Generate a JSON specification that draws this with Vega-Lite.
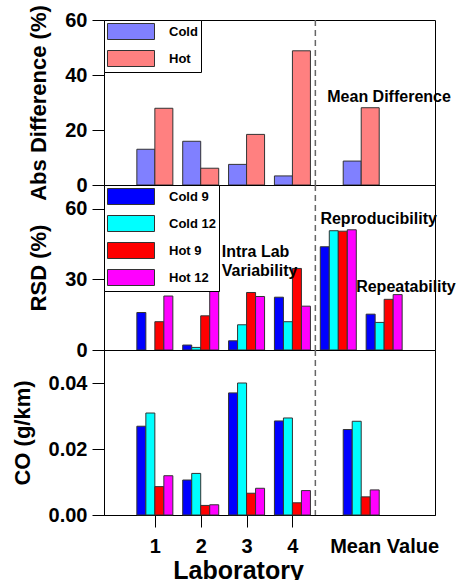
{
  "$schema": "https://vega.github.io/schema/vega-lite/v6.json",
  "padding": {"left": 10, "top": 4, "right": 0, "bottom": 0},
  "bounds": "flush",
  "spacing": 0,
  "config": {
    "font": "Liberation Sans",
    "view": {"stroke": "black", "strokeWidth": 1},
    "axis": {
      "labelFont": "Liberation Sans", "labelFontWeight": "bold", "labelFontSize": 20, "labelColor": "black",
      "titleFont": "Liberation Sans", "titleFontWeight": "bold", "titleFontSize": 22, "titleColor": "black",
      "domainColor": "black", "tickColor": "black", "tickSize": 12, "labelPadding": 5, "titlePadding": 14, "grid": false
    },
    "legend": {
      "orient": "top-left", "offset": 0, "fillColor": "white", "strokeColor": "black", "padding": 3,
      "symbolType": "M-1,-1H4.875V1H-1Z", "symbolSize": 256, "symbolStrokeColor": "#333", "symbolStrokeWidth": 1,
      "symbolOpacity": 1, "labelFont": "Liberation Sans", "labelFontSize": 13, "labelFontWeight": "bold", "labelColor": "black",
      "labelOffset": 45, "rowPadding": 6
    },
    "bar": {"stroke": "#333", "strokeWidth": 1},
    "text": {"font": "Liberation Sans", "fontWeight": "bold", "fontSize": 16, "color": "black"}
  },
  "datasets": {
    "diff": [
      {"lab": 1, "cond": "Cold", "v": 13.0}, {"lab": 1, "cond": "Hot", "v": 27.9},
      {"lab": 2, "cond": "Cold", "v": 15.9}, {"lab": 2, "cond": "Hot", "v": 6.1},
      {"lab": 3, "cond": "Cold", "v": 7.5}, {"lab": 3, "cond": "Hot", "v": 18.4},
      {"lab": 4, "cond": "Cold", "v": 3.3}, {"lab": 4, "cond": "Hot", "v": 48.8},
      {"lab": 5.5, "cond": "Cold", "v": 8.7}, {"lab": 5.5, "cond": "Hot", "v": 28.1}
    ],
    "rsd": [
      {"lab": 1, "series": "Cold 9", "v": 15.9}, {"lab": 1, "series": "Hot 9", "v": 12.0}, {"lab": 1, "series": "Hot 12", "v": 22.9},
      {"lab": 2, "series": "Cold 9", "v": 2.1}, {"lab": 2, "series": "Cold 12", "v": 1.1}, {"lab": 2, "series": "Hot 9", "v": 14.5}, {"lab": 2, "series": "Hot 12", "v": 29.0},
      {"lab": 3, "series": "Cold 9", "v": 3.9}, {"lab": 3, "series": "Cold 12", "v": 10.7}, {"lab": 3, "series": "Hot 9", "v": 24.4}, {"lab": 3, "series": "Hot 12", "v": 22.7},
      {"lab": 4, "series": "Cold 9", "v": 22.4}, {"lab": 4, "series": "Cold 12", "v": 12.0}, {"lab": 4, "series": "Hot 9", "v": 34.6}, {"lab": 4, "series": "Hot 12", "v": 18.6},
      {"lab": 5, "series": "Cold 9", "v": 43.8}, {"lab": 5, "series": "Cold 12", "v": 50.6}, {"lab": 5, "series": "Hot 9", "v": 50.4}, {"lab": 5, "series": "Hot 12", "v": 51.0},
      {"lab": 6, "series": "Cold 9", "v": 15.2}, {"lab": 6, "series": "Cold 12", "v": 11.7}, {"lab": 6, "series": "Hot 9", "v": 21.5}, {"lab": 6, "series": "Hot 12", "v": 23.5}
    ],
    "co": [
      {"lab": 1, "series": "Cold 9", "v": 0.0269}, {"lab": 1, "series": "Cold 12", "v": 0.0309}, {"lab": 1, "series": "Hot 9", "v": 0.0086}, {"lab": 1, "series": "Hot 12", "v": 0.0119},
      {"lab": 2, "series": "Cold 9", "v": 0.0106}, {"lab": 2, "series": "Cold 12", "v": 0.0126}, {"lab": 2, "series": "Hot 9", "v": 0.0029}, {"lab": 2, "series": "Hot 12", "v": 0.0031},
      {"lab": 3, "series": "Cold 9", "v": 0.0370}, {"lab": 3, "series": "Cold 12", "v": 0.0400}, {"lab": 3, "series": "Hot 9", "v": 0.0066}, {"lab": 3, "series": "Hot 12", "v": 0.0081},
      {"lab": 4, "series": "Cold 9", "v": 0.0285}, {"lab": 4, "series": "Cold 12", "v": 0.0294}, {"lab": 4, "series": "Hot 9", "v": 0.0037}, {"lab": 4, "series": "Hot 12", "v": 0.0074},
      {"lab": 5.5, "series": "Cold 9", "v": 0.0259}, {"lab": 5.5, "series": "Cold 12", "v": 0.0284}, {"lab": 5.5, "series": "Hot 9", "v": 0.0055}, {"lab": 5.5, "series": "Hot 12", "v": 0.0076}
    ]
  },
  "resolve": {
    "scale": {"y": "independent", "color": "independent"},
    "legend": {"color": "independent"}
  },
  "vconcat": [
    {
      "width": 331, "height": 165,
      "layer": [
        {
          "data": {"name": "diff"},
          "transform": [{"filter": "datum.cond == 'Cold'"}],
          "mark": {"type": "bar", "width": 18, "xOffset": -9},
          "encoding": {
            "x": {"field": "lab", "type": "quantitative", "scale": {"domain": [0, 7], "nice": false, "zero": false}, "axis": null},
            "y": {"field": "v", "type": "quantitative", "stack": null, "scale": {"domain": [0, 60], "nice": false}, "axis": {"values": [0, 20, 40, 60], "title": "Abs Difference (%)"}},
            "color": {"field": "cond", "type": "nominal", "scale": {"domain": ["Cold", "Hot"], "range": ["#8080ff", "#ff8080"]}, "legend": {"title": null}}
          }
        },
        {
          "data": {"name": "diff"},
          "transform": [{"filter": "datum.cond == 'Hot'"}],
          "mark": {"type": "bar", "width": 18, "xOffset": 9},
          "encoding": {
            "x": {"field": "lab", "type": "quantitative", "scale": {"domain": [0, 7], "nice": false, "zero": false}, "axis": null},
            "y": {"field": "v", "type": "quantitative", "stack": null, "scale": {"domain": [0, 60], "nice": false}, "axis": {"values": [0, 20, 40, 60], "title": "Abs Difference (%)"}},
            "color": {"field": "cond", "type": "nominal", "scale": {"domain": ["Cold", "Hot"], "range": ["#8080ff", "#ff8080"]}, "legend": {"title": null}}
          }
        },
        {
          "data": {"values": [{}]},
          "mark": {"type": "rule", "strokeDash": [6, 4], "color": "#666", "strokeWidth": 1.5},
          "encoding": {"x": {"datum": 4.5, "type": "quantitative"}}
        },
        {
          "data": {"values": [{}]},
          "mark": {"type": "text", "align": "left", "baseline": "alphabetic", "text": "Mean Difference"},
          "encoding": {"x": {"datum": 4.76, "type": "quantitative"}, "y": {"datum": 30.2, "type": "quantitative"}}
        }
      ]
    },
    {
      "width": 331, "height": 165,
      "layer": [
        {
          "data": {"name": "rsd"},
          "transform": [{"filter": "datum.series == 'Cold 9'"}],
          "mark": {"type": "bar", "width": 9, "xOffset": -13.5},
          "encoding": {
            "x": {"field": "lab", "type": "quantitative", "scale": {"domain": [0, 7], "nice": false, "zero": false}, "axis": null},
            "y": {"field": "v", "type": "quantitative", "stack": null, "scale": {"domain": [0, 70], "nice": false}, "axis": {"values": [0, 30, 60], "title": "RSD (%)"}},
            "color": {"field": "series", "type": "nominal", "scale": {"domain": ["Cold 9", "Cold 12", "Hot 9", "Hot 12"], "range": ["#0000ff", "#00ffff", "#ff0000", "#ff00ff"]}, "legend": {"title": null}}
          }
        },
        {
          "data": {"name": "rsd"},
          "transform": [{"filter": "datum.series == 'Cold 12'"}],
          "mark": {"type": "bar", "width": 9, "xOffset": -4.5},
          "encoding": {
            "x": {"field": "lab", "type": "quantitative", "scale": {"domain": [0, 7], "nice": false, "zero": false}, "axis": null},
            "y": {"field": "v", "type": "quantitative", "stack": null, "scale": {"domain": [0, 70], "nice": false}, "axis": {"values": [0, 30, 60], "title": "RSD (%)"}},
            "color": {"field": "series", "type": "nominal", "scale": {"domain": ["Cold 9", "Cold 12", "Hot 9", "Hot 12"], "range": ["#0000ff", "#00ffff", "#ff0000", "#ff00ff"]}, "legend": {"title": null}}
          }
        },
        {
          "data": {"name": "rsd"},
          "transform": [{"filter": "datum.series == 'Hot 9'"}],
          "mark": {"type": "bar", "width": 9, "xOffset": 4.5},
          "encoding": {
            "x": {"field": "lab", "type": "quantitative", "scale": {"domain": [0, 7], "nice": false, "zero": false}, "axis": null},
            "y": {"field": "v", "type": "quantitative", "stack": null, "scale": {"domain": [0, 70], "nice": false}, "axis": {"values": [0, 30, 60], "title": "RSD (%)"}},
            "color": {"field": "series", "type": "nominal", "scale": {"domain": ["Cold 9", "Cold 12", "Hot 9", "Hot 12"], "range": ["#0000ff", "#00ffff", "#ff0000", "#ff00ff"]}, "legend": {"title": null}}
          }
        },
        {
          "data": {"name": "rsd"},
          "transform": [{"filter": "datum.series == 'Hot 12'"}],
          "mark": {"type": "bar", "width": 9, "xOffset": 13.5},
          "encoding": {
            "x": {"field": "lab", "type": "quantitative", "scale": {"domain": [0, 7], "nice": false, "zero": false}, "axis": null},
            "y": {"field": "v", "type": "quantitative", "stack": null, "scale": {"domain": [0, 70], "nice": false}, "axis": {"values": [0, 30, 60], "title": "RSD (%)"}},
            "color": {"field": "series", "type": "nominal", "scale": {"domain": ["Cold 9", "Cold 12", "Hot 9", "Hot 12"], "range": ["#0000ff", "#00ffff", "#ff0000", "#ff00ff"]}, "legend": {"title": null}}
          }
        },
        {
          "data": {"values": [{}]},
          "mark": {"type": "rule", "strokeDash": [6, 4], "color": "#666", "strokeWidth": 1.5},
          "encoding": {"x": {"datum": 4.5, "type": "quantitative"}}
        },
        {
          "data": {"values": [{}]},
          "mark": {"type": "text", "align": "left", "baseline": "alphabetic", "text": ["Intra Lab", "Variability"], "lineHeight": 19},
          "encoding": {"x": {"datum": 2.46, "type": "quantitative"}, "y": {"datum": 39.3, "type": "quantitative"}}
        },
        {
          "data": {"values": [{}]},
          "mark": {"type": "text", "align": "left", "baseline": "alphabetic", "text": "Reproducibility"},
          "encoding": {"x": {"datum": 4.61, "type": "quantitative"}, "y": {"datum": 53.5, "type": "quantitative"}}
        },
        {
          "data": {"values": [{}]},
          "mark": {"type": "text", "align": "left", "baseline": "alphabetic", "text": "Repeatability"},
          "encoding": {"x": {"datum": 5.39, "type": "quantitative"}, "y": {"datum": 24.6, "type": "quantitative"}}
        }
      ]
    },
    {
      "width": 331, "height": 165,
      "layer": [
        {
          "data": {"name": "co"},
          "transform": [{"filter": "datum.series == 'Cold 9'"}],
          "mark": {"type": "bar", "width": 9, "xOffset": -13.5},
          "encoding": {
            "x": {
              "field": "lab", "type": "quantitative", "scale": {"domain": [0, 7], "nice": false, "zero": false},
              "axis": {
                "values": [1, 2, 3, 4, 6], "format": "d",
                "labelExpr": "datum.value == 6 ? 'Mean Value' : datum.label",
                "tickOpacity": {"condition": {"test": "datum.value == 6", "value": 0}, "value": 1},
                "labelPadding": 9, "title": "Laboratory", "titleFontSize": 25, "titlePadding": 2, "titleX": 134
              }
            },
            "y": {"field": "v", "type": "quantitative", "stack": null, "scale": {"domain": [0, 0.05], "nice": false}, "axis": {"values": [0, 0.02, 0.04], "format": ".2f", "title": "CO (g/km)"}},
            "color": {"field": "series", "type": "nominal", "scale": {"domain": ["Cold 9", "Cold 12", "Hot 9", "Hot 12"], "range": ["#0000ff", "#00ffff", "#ff0000", "#ff00ff"]}, "legend": null}
          }
        },
        {
          "data": {"name": "co"},
          "transform": [{"filter": "datum.series == 'Cold 12'"}],
          "mark": {"type": "bar", "width": 9, "xOffset": -4.5},
          "encoding": {
            "x": {"field": "lab", "type": "quantitative"},
            "y": {"field": "v", "type": "quantitative", "stack": null},
            "color": {"field": "series", "type": "nominal", "legend": null}
          }
        },
        {
          "data": {"name": "co"},
          "transform": [{"filter": "datum.series == 'Hot 9'"}],
          "mark": {"type": "bar", "width": 9, "xOffset": 4.5},
          "encoding": {
            "x": {"field": "lab", "type": "quantitative"},
            "y": {"field": "v", "type": "quantitative", "stack": null},
            "color": {"field": "series", "type": "nominal", "legend": null}
          }
        },
        {
          "data": {"name": "co"},
          "transform": [{"filter": "datum.series == 'Hot 12'"}],
          "mark": {"type": "bar", "width": 9, "xOffset": 13.5},
          "encoding": {
            "x": {"field": "lab", "type": "quantitative"},
            "y": {"field": "v", "type": "quantitative", "stack": null},
            "color": {"field": "series", "type": "nominal", "legend": null}
          }
        },
        {
          "data": {"values": [{}]},
          "mark": {"type": "rule", "strokeDash": [6, 4], "color": "#666", "strokeWidth": 1.5},
          "encoding": {"x": {"datum": 4.5, "type": "quantitative"}}
        }
      ]
    }
  ]
}
